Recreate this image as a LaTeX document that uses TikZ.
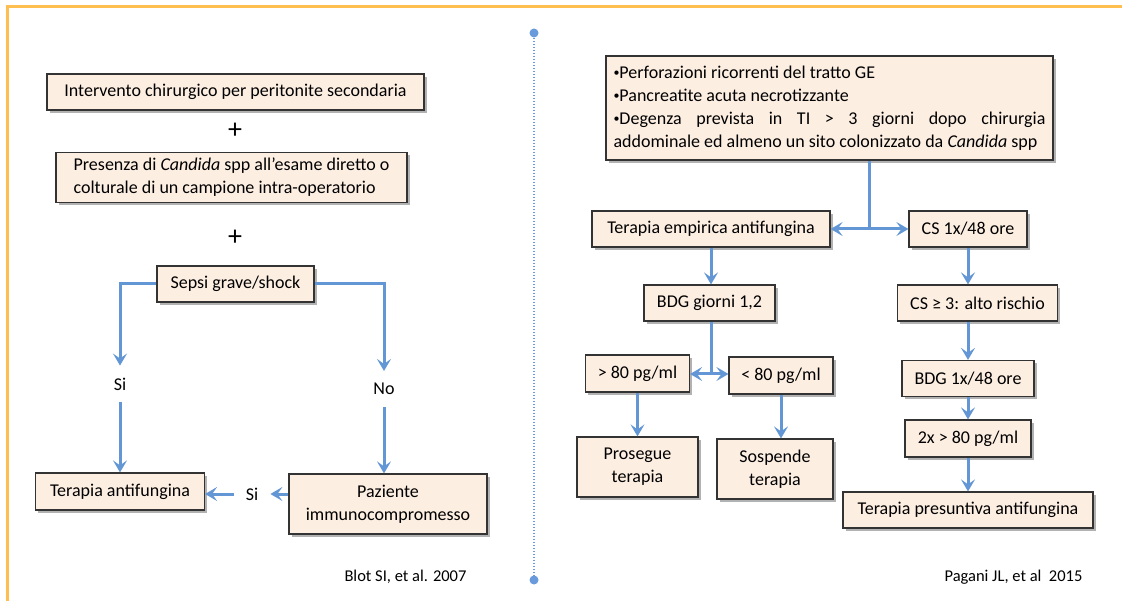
\documentclass[tikz,border=0pt]{standalone}
\usepackage{fontspec}
\setmainfont{Carlito}
\usetikzlibrary{arrows.meta,positioning,shadows}
\definecolor{boxfill}{RGB}{253,238,226}
\definecolor{arrblue}{RGB}{98,150,212}
\definecolor{frameorange}{RGB}{255,190,80}
\definecolor{divblue}{RGB}{105,155,220}
\hyphenpenalty=10000
\setlength{\parindent}{0pt}
\newcommand{\smallbul}{\raisebox{1.5pt}{\fontsize{12}{12}\selectfont •}}

\begin{document}
\begin{tikzpicture}[
        x=1pt, y=-1pt,
        every node/.style={font=\fontsize{18}{23}\selectfont},
        box/.style={rectangle, draw=black!80, line width=1.2pt, fill=boxfill, inner sep=0pt, align=center,
            drop shadow={shadow xshift=2.5pt, shadow yshift=-3pt, opacity=0.3, fill=black}},
        lbl/.style={inner sep=12pt},
        plus/.style={font=\fontsize{28}{30}\selectfont},
        cite/.style={font=\fontsize{16.5}{20}\selectfont},
        enddot/.style={circle, fill=divblue, inner sep=0pt, minimum size=9pt},
        arr/.style={draw=arrblue, line width=3pt, -{Stealth[length=12pt, width=14pt, inset=5pt]}},
        link/.style={draw=arrblue, line width=3pt},
    ]
    \useasboundingbox (0,0) rectangle (1122,601);

    % Slide frame
    \draw[frameorange, line width=3pt] (7,601) -- (7,7) -- (1122,7);

    % Divider between the two schemes
    \node[enddot] (dotTop) at (534,33) {};
    \node[enddot] (dotBot) at (534,580) {};
    \draw[divblue, line width=1.5pt, dash pattern=on 1.5pt off 1.5pt] (dotTop) -- (dotBot);

    % Left scheme (Blot)
    \node[box, minimum width=377pt, minimum height=36pt] (interv) at (235.5,92) {Intervento chirurgico per peritonite secondaria};
    \node[plus] (plusA) at (235,131) {+};
    \node[box, minimum width=351pt, minimum height=50pt, align=left] (presenza) at (231.5,177.5) {Presenza di \textit{Candida} spp all’esame diretto o\\colturale di un campione intra-operatorio};
    \node[plus] (plusB) at (235,238) {+};
    \node[box, minimum width=157pt, minimum height=36pt] (sepsi) at (235.5,284) {Sepsi grave/shock};
    \node[lbl] (siA) at (120,384) {Si};
    \node[lbl] (noA) at (384,389) {No};
    \node[box, minimum width=169pt, minimum height=37pt] (terapiaA) at (120,491.5) {Terapia antifungina};
    \node[box, minimum width=198pt, minimum height=60pt] (paziente) at (388,504) {Paziente\\immunocompromesso};
    \node[lbl] (siB) at (252,494) {Si};
    \node[cite] (blot) at (405.5,577) {Blot SI, et al. 2007};

    \draw[arr] (sepsi.west) -| (siA.north);
    \draw[arr] (siA.south) -- (terapiaA.north);
    \draw[arr] (sepsi.east) -| (noA.north);
    \draw[arr] (noA.south) -- (noA.south |- paziente.north);
    \draw[arr] (paziente.west |- siB) -- (siB.east);
    \draw[arr] (siB.west) -- (siB.west -| terapiaA.east);

    % Right scheme (Pagani)
    \node[box, minimum width=447pt, minimum height=104pt, align=left] (criteria) at (829.5,108)
        {\smallbul Perforazioni ricorrenti del tratto GE\\
         \smallbul Pancreatite acuta necrotizzante\\
         \makebox[432pt][s]{\smallbul Degenza prevista in TI > 3 giorni dopo chirurgia}\\
         addominale ed almeno un sito colonizzato da \textit{Candida} spp};
    \coordinate (splitA) at (869,229);
    \node[box, minimum width=238pt, minimum height=36pt] (empirica) at (711,229) {Terapia empirica antifungina};
    \node[box, minimum width=118pt, minimum height=36pt] (csA) at (968,229) {CS 1x/48 ore};
    \node[box, minimum width=131pt, minimum height=36pt] (bdgA) at (709.5,303) {BDG giorni 1,2};
    \coordinate (splitB) at (711,374);
    \node[box, minimum width=104pt, minimum height=37pt] (bdgHigh) at (637.5,373.5) {> 80 pg/ml};
    \node[box, minimum width=104pt, minimum height=37pt] (bdgLow) at (781,375.5) {< 80 pg/ml};
    \node[box, minimum width=121pt, minimum height=60pt] (prosegue) at (637.5,467) {Prosegue\\terapia};
    \node[box, minimum width=116pt, minimum height=60pt] (sospende) at (775,469) {Sospende\\terapia};
    \node[box, minimum width=160pt, minimum height=36pt] (csB) at (977.5,303) {CS ≥ 3: alto rischio};
    \node[box, minimum width=132pt, minimum height=36pt] (bdgB) at (968,378.5) {BDG 1x/48 ore};
    \node[box, minimum width=126pt, minimum height=37pt] (twox) at (968,438.5) {2x > 80 pg/ml};
    \node[box, minimum width=250pt, minimum height=36pt] (presunt) at (968,510) {Terapia presuntiva antifungina};
    \node[cite] (pagani) at (1013.5,577.5) {Pagani JL, et al\ \ 2015};

    \draw[link] (splitA |- criteria.south) -- (splitA);
    \draw[arr] (splitA) -- (empirica.east);
    \draw[arr] (splitA) -- (csA.west);
    \draw[arr] (empirica.south) -- (empirica.south |- bdgA.north);
    \draw[link] (bdgA.south -| splitB) -- (splitB);
    \draw[arr] (splitB) -- (splitB -| bdgHigh.east);
    \draw[arr] (splitB) -- (splitB -| bdgLow.west);
    \draw[arr] (bdgHigh.south) -- (prosegue.north);
    \draw[arr] (bdgLow.south) -- (bdgLow.south |- sospende.north);
    \draw[arr] (csA.south) -- (csA.south |- csB.north);
    \draw[arr] (csA.south |- csB.south) -- (csA.south |- bdgB.north);
    \draw[arr] (bdgB.south) -- (twox.north);
    \draw[arr] (twox.south) -- (presunt.north);
\end{tikzpicture}
\end{document}
